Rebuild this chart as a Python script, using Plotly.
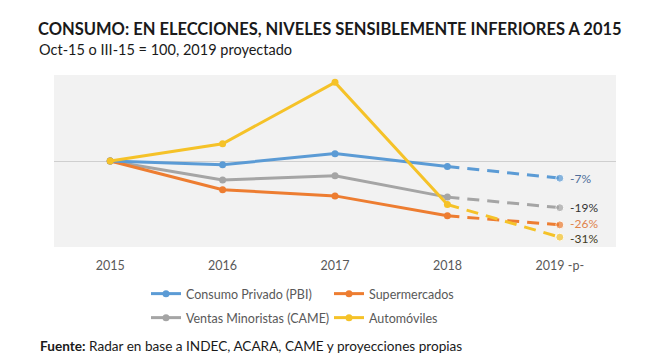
import plotly.graph_objects as go

years = ["2015", "2016", "2017", "2018", "2019 -p-"]
series_names = ["Consumo Privado (PBI)", "Supermercados", "Ventas Minoristas (CAME)", "Automóviles"]
consumo = [100, 98.5, 103, 97.8, 93]
super_ = [100, 88.3, 85.8, 77.7, 74]
ventas = [100, 92.3, 94, 85.3, 81]
autos = [100, 107, 132, 82.3, 69]
labels_2019 = ["-7%", "-26%", "-19%", "-31%"]

colors = ["#5B9BD5", "#ED7D31", "#A5A5A5", "#F5C228"]
label_colors = ["#4F6E9A", "#E0834A", "#333333", "#3F3A22"]
label_yshift = [0, 1.5, 0, -1.5]
all_vals = [consumo, super_, ventas, autos]
legend_ids = ["legend", "legend", "legend2", "legend2"]

W, H = 667, 364
L, R, T, B = 54, 51, 75, 117
pw, ph = W - L - R, H - T - B

def px_x(p):
    return (p - L) / pw

def px_y(p):
    return (H - B - p) / ph

fig = go.Figure()
font_fam = "Lato, Open Sans, sans-serif"

annotations = []
order = [2, 1, 0, 3]
for i in order:
    vals = all_vals[i]
    fig.add_trace(go.Scatter(
        x=years[:4], y=vals[:4], mode="lines+markers", name=series_names[i],
        line=dict(color=colors[i], width=3), marker=dict(size=7, color=colors[i]),
        legend=legend_ids[i], legendrank=i, showlegend=True,
    ))
    fig.add_trace(go.Scatter(
        x=years[3:], y=vals[3:], mode="lines+markers", showlegend=False,
        line=dict(color=colors[i], width=3, dash="12px,8px"),
        marker=dict(size=[0, 8], color=colors[i]),
        hoverinfo="skip",
    ))
    annotations.append(dict(
        x=years[4], y=vals[4], xref="x", yref="y", text=labels_2019[i],
        xanchor="left", yanchor="middle", xshift=9, yshift=label_yshift[i],
        showarrow=False, borderpad=0,
        font=dict(family=font_fam, size=12, color=label_colors[i]),
    ))

annotations += [
    dict(text="Oct-15 o III-15 = 100, 2019 proyectado", xref="paper", yref="paper",
         x=px_x(37), y=px_y(50), xanchor="left", yanchor="middle", showarrow=False,
         font=dict(family=font_fam, size=14.5, color="#1A1A1A")),
    dict(text="<b>Fuente:</b> Radar en base a INDEC, ACARA, CAME y proyecciones propias",
         xref="paper", yref="paper", x=px_x(38), y=px_y(346), xanchor="left",
         yanchor="middle", showarrow=False,
         font=dict(family=font_fam, size=13.6, color="#1A1A1A")),
]

fig.update_layout(
    width=W, height=H,
    margin=dict(l=L, r=R, t=T, b=B, autoexpand=False),
    paper_bgcolor="white", plot_bgcolor="#F2F2F2",
    font=dict(family=font_fam, color="#595959"),
    title=dict(
        text="<b>CONSUMO: EN ELECCIONES, NIVELES SENSIBLEMENTE INFERIORES A 2015</b>",
        x=38 / W, xanchor="left", xref="container",
        y=1 - 29 / H, yanchor="middle", yref="container",
        pad=dict(l=0, r=0, t=0, b=0),
        font=dict(family=font_fam, size=16.5, color="#1A1A1A"),
    ),
    xaxis=dict(type="category", range=[-0.5, 4.5], showgrid=False, showline=False,
               ticks="", ticklabelstandoff=9, tickfont=dict(size=12.5, color="#595959"),
               fixedrange=True),
    yaxis=dict(range=[65, 135], tickvals=[100], showticklabels=False,
               showgrid=True, gridcolor="#CFCFCF", gridwidth=1, zeroline=False,
               showline=False, fixedrange=True),
    legend=dict(orientation="h", x=px_x(146), xanchor="left", y=px_y(294), yanchor="middle",
                font=dict(size=12.5, color="#595959"), entrywidth=138, entrywidthmode="pixels",
                bgcolor="rgba(0,0,0,0)", itemclick=False, traceorder="normal"),
    legend2=dict(orientation="h", x=px_x(146), xanchor="left", y=px_y(318), yanchor="middle",
                 font=dict(size=12.5, color="#595959"), entrywidth=138, entrywidthmode="pixels",
                 bgcolor="rgba(0,0,0,0)", itemclick=False, traceorder="normal"),
    showlegend=True,
    annotations=annotations,
)

fig.write_html("out.html", config={"displayModeBar": False},
               post_script="document.body.style.margin='0px';")
